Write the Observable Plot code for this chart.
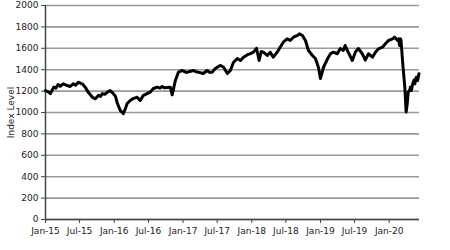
<!DOCTYPE html>
<html>
<head>
<meta charset="utf-8">
<script src="https://cdn.jsdelivr.net/npm/d3@7"></script>
<script src="https://cdn.jsdelivr.net/npm/@observablehq/plot@0.6"></script>
<style>
  html, body { margin: 0; padding: 0; background: #fff; }
  #chart { width: 450px; height: 250px; }
</style>
</head>
<body>
<div id="chart"></div>
<script>
// Dates of observations
const dates = [
  "2015-01-01","2015-01-14","2015-01-27","2015-02-14","2015-02-25","2015-03-09","2015-03-20","2015-04-05",
  "2015-04-15","2015-04-26","2015-05-12","2015-05-28","2015-06-10","2015-06-24","2015-07-08","2015-07-15",
  "2015-07-31","2015-08-16","2015-08-28","2015-09-07","2015-09-23","2015-10-09","2015-10-20","2015-10-30",
  "2015-11-12","2015-11-26","2015-12-11","2015-12-27","2016-01-08","2016-01-18","2016-02-03","2016-02-19",
  "2016-03-01","2016-03-10","2016-03-26","2016-04-11","2016-05-02","2016-05-18","2016-06-04","2016-06-24",
  "2016-07-10","2016-07-27","2016-08-17","2016-09-01","2016-09-12","2016-09-25","2016-10-09","2016-10-25",
  "2016-11-04","2016-11-21","2016-12-07","2016-12-28","2017-01-14","2017-01-25","2017-02-10","2017-02-26",
  "2017-03-10","2017-03-22","2017-04-18","2017-05-09","2017-05-22","2017-06-05","2017-06-21","2017-07-17",
  "2017-08-03","2017-08-24","2017-09-09","2017-09-26","2017-10-16","2017-11-02","2017-11-18","2017-12-09",
  "2017-12-25","2018-01-10","2018-01-26","2018-02-09","2018-02-20","2018-03-03","2018-03-24","2018-04-09",
  "2018-04-25","2018-05-16","2018-06-01","2018-06-17","2018-07-08","2018-07-24","2018-08-10","2018-09-01",
  "2018-09-11","2018-09-27","2018-10-13","2018-10-29","2018-11-19","2018-12-05","2018-12-21","2019-01-01",
  "2019-01-17","2019-02-08","2019-02-24","2019-03-10","2019-03-31","2019-04-16","2019-05-02","2019-05-12",
  "2019-05-28","2019-06-19","2019-07-05","2019-07-21","2019-08-11","2019-08-27","2019-09-13","2019-10-04",
  "2019-10-20","2019-11-05","2019-11-26","2019-12-12","2019-12-28","2020-01-19","2020-01-30","2020-02-15",
  "2020-02-20","2020-02-25","2020-03-01","2020-03-04","2020-03-13","2020-03-24","2020-03-31","2020-04-06",
  "2020-04-11","2020-04-18","2020-04-23","2020-04-28","2020-05-05","2020-05-13","2020-05-16","2020-05-24",
  "2020-05-31","2020-06-07"
];
// Index level values
const values = [
  1205,1195,1177,1237,1228,1262,1245,1268,
  1260,1252,1243,1268,1255,1283,1272,1268,
  1237,1190,1165,1143,1128,1160,1150,1177,
  1170,1190,1205,1177,1150,1084,1018,990,
  1040,1084,1112,1130,1143,1112,1160,1177,
  1190,1224,1237,1228,1243,1230,1234,1237,
  1165,1300,1377,1393,1377,1377,1385,1393,
  1380,1377,1364,1393,1375,1377,1411,1440,
  1425,1364,1393,1470,1504,1486,1517,1540,
  1551,1564,1600,1486,1570,1564,1533,1564,
  1517,1564,1610,1657,1688,1673,1704,1720,
  1735,1720,1673,1579,1533,1504,1423,1318,
  1423,1504,1551,1564,1549,1598,1580,1626,
  1564,1486,1564,1598,1549,1490,1549,1517,
  1564,1595,1610,1642,1673,1688,1704,1673,
  1688,1626,1688,1673,1458,1234,1005,1084,
  1190,1205,1237,1205,1268,1305,1268,1330,
  1299,1362
];
// Axis ticks
const yTicks = [0, 200, 400, 600, 800, 1000, 1200, 1400, 1600, 1800, 2000];
const xTickLabels = ["2015-01-01","2015-07-01","2016-01-01","2016-07-01","2017-01-01","2017-07-01",
                     "2018-01-01","2018-07-01","2019-01-01","2019-07-01","2020-01-01"];
const xStart = "2015-01-01";
const xEnd = "2020-06-10";

const parse = d3.utcParse("%Y-%m-%d");
const data = dates.map((d, i) => ({date: parse(d), value: values[i]}));
const xTicks = xTickLabels.map(parse);

const chart = Plot.plot({
  width: 450,
  height: 250,
  marginLeft: 45,
  marginRight: 31,
  marginTop: 5,
  marginBottom: 31,
  style: {fontFamily: "DejaVu Sans", fontSize: "9px", color: "#222", background: "#fff"},
  x: {type: "utc", domain: [parse(xStart), parse(xEnd)]},
  y: {domain: [0, 2000]},
  marks: [
    Plot.gridY(yTicks, {stroke: "#999", strokeOpacity: 1, strokeWidth: 1.6}),
    Plot.axisY(yTicks, {tickSize: 4, tickPadding: 3, tickFormat: d3.format("d"), label: "Index Level", labelAnchor: "center", labelArrow: "none", labelOffset: 38, stroke: "#444"}),
    Plot.axisX(xTicks, {tickSize: 4, tickPadding: 4, tickFormat: d3.utcFormat("%b-%y"), label: null, stroke: "#444"}),
    Plot.ruleY([0], {stroke: "#444", strokeWidth: 1.5}),
    Plot.ruleX([parse(xStart)], {stroke: "#444", strokeWidth: 1.5}),
    Plot.lineY(data, {x: "date", y: "value", stroke: "black", strokeWidth: 3, strokeLinejoin: "round"})
  ]
});
document.getElementById("chart").append(chart);
</script>
</body>
</html>
